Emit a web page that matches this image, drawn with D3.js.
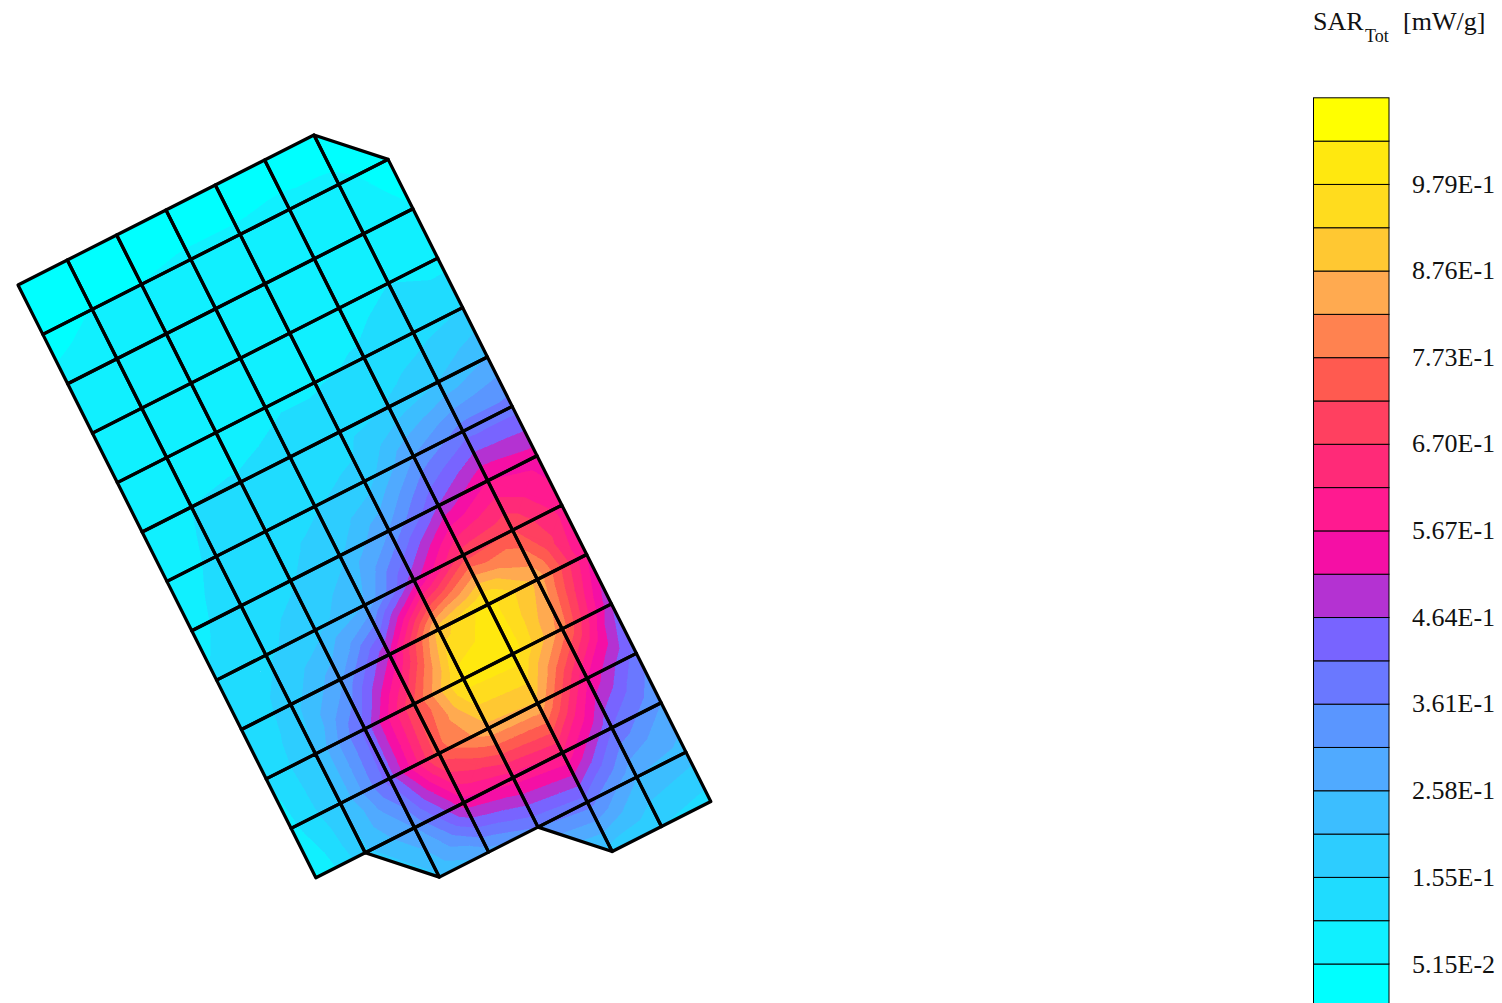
<!DOCTYPE html>
<html>
<head>
<meta charset="utf-8">
<style>
html, body { margin: 0; padding: 0; background: #fff; overflow: hidden; }
svg { display: block; }
text { font-family: "Liberation Serif", serif; fill: #111; }
</style>
</head>
<body>
<div id="vis"></div>
<script src="https://cdn.jsdelivr.net/npm/d3@7"></script>
<script>
// SAR at the mesh nodes in mW/g, one list per mesh column, index = row. null = no node there
var col0 = [.031,.044,.057,.062,.067,.075,.082,.088,.108,.103,.103,.088,.041];
var col1 = [.031,.052,.062,.072,.093,.103,.111,.129,.144,.180,.206,.206,.191];
var col2 = [.031,.052,.067,.077,.088,.106,.129,.149,.185,.294,.427,.438,.309,.196];
var col3 = [.031,.057,.072,.088,.098,.113,.149,.196,.258,.515,.721,.747,.541,.283];
var col4 = [.031,.057,.072,.088,.098,.129,.175,.309,.489,.901,1.004,.860,.592,.361];
var col5 = [.031,.062,.077,.088,.108,.160,.309,.464,.695,1.004,1.010,.870,.618,.386,.180];
var col6 = [.021,.062,.082,.103,.129,.206,.386,.567,.721,.860,.798,.567,.412,.258,.155];
var col7 = [null,.031,.054,.082,.155,.258,.386,.541,.592,.567,.464,.386,.309,.232,.129];
var columns = [col0, col1, col2, col3, col4, col5, col6, col7];

// elements that are triangles instead of quads: [column, row] of each corner
var triangles = [
  [[6,0],[7,1],[6,1]],
  [[1,12],[2,12],[2,13]],
  [[4,13],[5,13],[5,14]]
];

// colour bands of the legend, bottom to top
var levels = d3.range(1, 21).map(k => k * 0.0515);
var bandColors = ["#00ffff","#10f0ff","#1fdcff","#2dcdff","#3cbeff","#50aaff","#5a96ff","#6a78ff","#7864ff","#b432d2",
  "#f50fa5","#ff1a90","#ff2a78","#ff4060","#ff5a50","#ff8250","#ffaa50","#ffc832","#ffdc1e","#ffe80f","#ffff00"];
var tickLabels = ["5.15E-2","1.55E-1","2.58E-1","3.61E-1","4.64E-1","5.67E-1","6.70E-1","7.73E-1","8.76E-1","9.79E-1"];

var w = 1502;
var h = 1003;

var chart = d3.select("#vis")
              .append("svg")
              .attr("width", w)
              .attr("height", h)
              .style("background-color", "#ffffff");

// mesh is a rotated grid, so x and y each get a part from column and from row
const xCol = d3.scaleLinear().domain([0,7]).range([18,363.3]);
const yCol = d3.scaleLinear().domain([0,7]).range([285,110]);
const xRow = d3.scaleLinear().domain([0,14]).range([0,347.5]);
const yRow = d3.scaleLinear().domain([0,14]).range([0,691.5]);

function node(c, r) {
  return { x: xCol(c) + xRow(r), y: yCol(c) + yRow(r), v: columns[c][r] };
}

// keep the part of a polygon on one side of a value
function clip(poly, level, above) {
  var out = [];
  poly.forEach(function(a, n) {
    var b = poly[(n + 1) % poly.length];
    var aIn = above ? a.v >= level : a.v <= level;
    var bIn = above ? b.v >= level : b.v <= level;
    if (aIn) out.push(a);
    if (aIn != bIn) {
      var t = (level - a.v) / (b.v - a.v);
      out.push({ x: a.x + t * (b.x - a.x), y: a.y + t * (b.y - a.y), v: level });
    }
  });
  return out;
}

var quads = [];
columns.forEach(function(col, c) {
  if (c == 7) return;
  col.forEach(function(v, r) {
    if (v == null || columns[c + 1][r] == null) return;
    if (columns[c][r + 1] == undefined || columns[c + 1][r + 1] == undefined) return;
    quads.push([node(c, r), node(c + 1, r), node(c + 1, r + 1), node(c, r + 1)]);
  });
});
var tris = triangles.map(t => t.map(p => node(p[0], p[1])));

// each quad is split in 4 around its middle
var pieces = tris.slice();
quads.forEach(function(q) {
  var m = { x: d3.mean(q, d => d.x), y: d3.mean(q, d => d.y), v: d3.mean(q, d => d.v) };
  q.forEach(function(a, n) { pieces.push([a, q[(n + 1) % 4], m]); });
});

var bandPolys = [];
pieces.forEach(function(tri) {
  bandColors.forEach(function(col, b) {
    var poly = tri;
    if (b > 0) poly = clip(poly, levels[b - 1], true);
    if (poly.length && b < levels.length) poly = clip(poly, levels[b], false);
    if (poly.length > 2) bandPolys.push({ pts: poly, color: col });
  });
});

const pathOf = d3.line().x(d => d.x).y(d => d.y).curve(d3.curveLinearClosed);

chart.append("g")
     .selectAll("path")
     .data(bandPolys)
     .enter()
     .append("path")
     .attr("d", d => pathOf(d.pts))
     .attr("fill", d => d.color)
     .attr("stroke", d => d.color)
     .attr("stroke-width", 0.6)
     .attr("shape-rendering", "crispEdges");

chart.append("g")
     .selectAll("path")
     .data(quads.concat(tris))
     .enter()
     .append("path")
     .attr("d", d => pathOf(d))
     .attr("fill", "none")
     .attr("stroke", "#000")
     .attr("stroke-width", 3.2)
     .attr("stroke-linejoin", "round");

// legend
const legendY = d3.scaleLinear().domain([0.0515, 0.979]).range([964, 184]);
const legendEdges = [0].concat(levels).concat([1.0815]);

chart.append("g")
     .selectAll("rect")
     .data(bandColors)
     .enter()
     .append("rect")
     .attr("x", 1313.5)
     .attr("width", 75.5)
     .attr("y", (d, n) => legendY(legendEdges[n + 1]))
     .attr("height", (d, n) => legendY(legendEdges[n]) - legendY(legendEdges[n + 1]))
     .attr("fill", d => d)
     .attr("stroke", "#000")
     .attr("stroke-width", 1);

const tickValues = tickLabels.map(Number);
chart.append("g")
     .attr("transform", "translate(1389,-0.2)")
     .call(d3.axisRight(legendY).tickValues(tickValues).tickSize(0).tickPadding(23)
             .tickFormat((d, n) => tickLabels[n]))
     .call(g => g.select(".domain").remove())
     .selectAll("text")
     .style("font-family", "Liberation Serif")
     .style("font-size", "26px")
     .attr("fill", "#111");

var title = chart.append("text").attr("x", 1313).attr("y", 30).style("font-size", "26px");
title.append("tspan").text("SAR");
title.append("tspan").attr("dx", 1.5).attr("dy", 12).style("font-size", "18px").text("Tot");
title.append("tspan").attr("x", 1403).attr("dy", -12).text("[mW/g]");
</script>
</body>
</html>
